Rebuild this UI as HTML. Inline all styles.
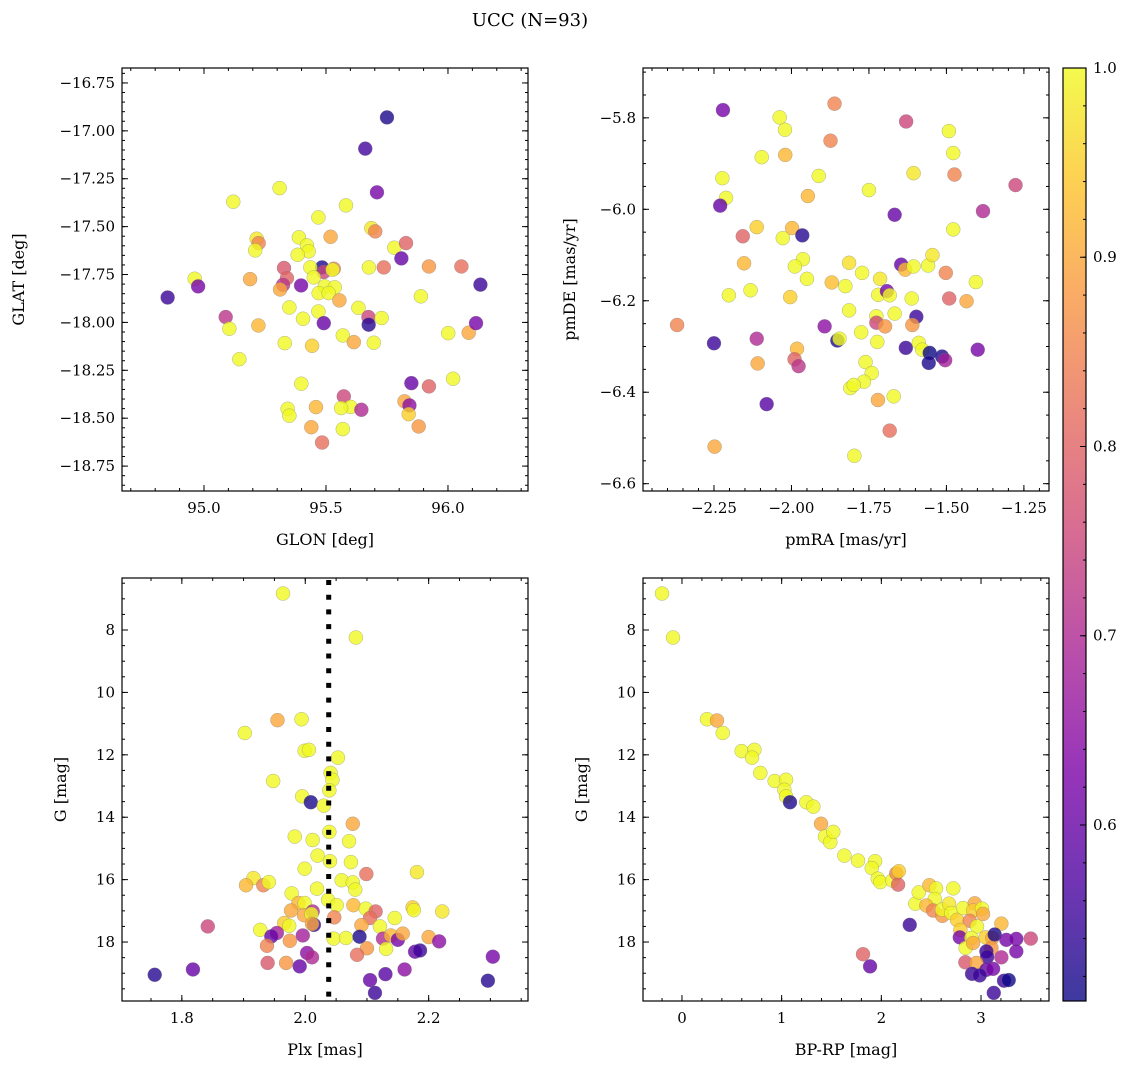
<!DOCTYPE html>
<html><head><meta charset="utf-8"><style>
body{margin:0;background:#fff;}
svg{display:block;font-family:"DejaVu Serif","Liberation Serif",serif;}
</style></head><body>
<svg id="fig" width="1136" height="1068" xmlns="http://www.w3.org/2000/svg">
<text x="530" y="26" font-size="18" text-anchor="middle">UCC (N=93)</text>
</svg>
<script>
// Panel 1: GLON / GLAT / prob
const p1x=[95.750,95.661,95.709,95.310,95.120,95.582,95.469,95.686,95.702,95.519,95.216,95.224,95.210,95.389,95.422,95.429,95.384,95.780,95.828,95.809,95.676,95.737,95.922,96.055,96.133,95.889,95.484,95.491,95.532,95.436,95.527,95.450,95.495,95.536,95.470,95.511,95.555,95.328,95.340,95.324,95.312,95.398,95.189,94.962,94.976,94.851,95.089,95.104,95.223,95.145,95.350,95.406,95.469,95.491,95.633,95.674,95.675,95.728,95.331,95.443,95.569,95.614,95.696,96.001,96.085,96.115,95.850,95.922,96.021,95.399,95.573,95.601,95.562,95.645,95.459,95.343,95.350,95.822,95.842,95.839,95.440,95.569,95.880,95.484];
const p1y=[-16.93,-17.093,-17.321,-17.299,-17.370,-17.389,-17.452,-17.508,-17.525,-17.553,-17.563,-17.586,-17.624,-17.556,-17.598,-17.629,-17.647,-17.610,-17.586,-17.666,-17.713,-17.713,-17.708,-17.708,-17.803,-17.864,-17.713,-17.737,-17.720,-17.713,-17.725,-17.765,-17.812,-17.817,-17.847,-17.847,-17.885,-17.716,-17.769,-17.804,-17.828,-17.807,-17.774,-17.772,-17.812,-17.870,-17.972,-18.033,-18.016,-18.192,-17.922,-17.981,-17.943,-18.004,-17.924,-17.972,-18.012,-17.977,-18.108,-18.122,-18.068,-18.103,-18.106,-18.056,-18.054,-18.004,-18.317,-18.334,-18.294,-18.320,-18.386,-18.441,-18.447,-18.456,-18.442,-18.451,-18.487,-18.412,-18.433,-18.479,-18.547,-18.557,-18.543,-18.627];
const p1c=[0.52,0.56,0.62,1,1,1,1,0.98,0.85,0.9,0.98,0.85,1,1,1,1,1,1,0.8,0.6,1,0.82,0.88,0.82,0.55,1,0.52,0.75,0.85,1,1,1,1,1,1,1,0.9,0.78,0.8,0.72,0.9,0.62,0.9,1,0.62,0.55,0.72,1,0.92,1,1,1,1,0.6,1,0.75,0.53,1,1,0.95,1,0.9,1,1,0.9,0.62,0.6,0.8,1,1,0.75,1,1,0.7,0.92,1,1,0.9,0.65,0.95,0.9,1,0.88,0.82];
// Panel 2: pmRA / pmDE / prob
const p2x=[-2.221,-2.038,-2.021,-1.861,-1.630,-1.492,-1.478,-1.474,-1.277,-1.382,-1.874,-2.020,-2.096,-1.912,-1.606,-1.750,-1.947,-2.223,-2.211,-2.230,-1.667,-1.478,-2.112,-2.157,-1.998,-2.028,-1.965,-1.963,-1.989,-1.950,-2.153,-2.132,-2.202,-2.004,-1.870,-1.826,-1.814,-1.772,-1.714,-1.720,-1.692,-1.683,-1.646,-1.633,-1.606,-1.559,-1.545,-1.502,-1.405,-1.612,-1.491,-1.435,-1.814,-1.726,-1.667,-1.597,-1.726,-1.698,-1.610,-1.893,-2.369,-2.250,-2.112,-1.852,-1.845,-1.775,-1.723,-1.631,-1.589,-1.578,-1.554,-1.514,-1.504,-1.557,-1.399,-1.982,-1.990,-1.977,-2.109,-1.761,-1.741,-1.766,-1.810,-1.799,-1.670,-1.721,-2.080,-1.683,-2.248,-1.797];
const p2y=[-5.783,-5.799,-5.826,-5.769,-5.808,-5.829,-5.877,-5.924,-5.947,-6.004,-5.850,-5.881,-5.886,-5.927,-5.921,-5.958,-5.971,-5.932,-5.975,-5.992,-6.012,-6.044,-6.039,-6.059,-6.041,-6.063,-6.057,-6.109,-6.125,-6.152,-6.118,-6.177,-6.188,-6.192,-6.160,-6.168,-6.117,-6.139,-6.152,-6.187,-6.179,-6.188,-6.121,-6.132,-6.125,-6.123,-6.100,-6.139,-6.159,-6.195,-6.195,-6.201,-6.221,-6.234,-6.228,-6.235,-6.248,-6.256,-6.253,-6.256,-6.253,-6.293,-6.283,-6.287,-6.283,-6.269,-6.290,-6.303,-6.292,-6.307,-6.314,-6.322,-6.330,-6.336,-6.307,-6.305,-6.328,-6.343,-6.337,-6.334,-6.358,-6.377,-6.391,-6.384,-6.409,-6.417,-6.426,-6.484,-6.519,-6.539];
const p2c=[0.62,1,1,0.85,0.75,1,1,0.85,0.75,0.7,0.85,0.92,1,1,0.98,1,0.92,1,1,0.6,0.6,1,0.95,0.8,0.92,1,0.53,1,1,1,0.92,1,1,0.95,0.93,1,0.97,1,0.98,1,0.62,1,0.6,0.92,1,1,0.98,0.85,1,1,0.8,0.9,1,1,1,0.55,0.75,0.88,0.88,0.65,0.85,0.55,0.7,0.52,1,1,1,0.55,1,1,0.5,0.52,0.68,0.52,0.62,0.92,0.8,0.72,0.9,1,1,1,1,1,1,0.9,0.58,0.82,0.9,1];
// Panel 3: Plx / G / prob
const p3x=[1.964,2.082,1.955,1.994,1.902,1.999,2.006,2.053,2.041,2.044,2.039,1.948,1.995,2.009,2.030,2.077,2.039,1.983,2.012,2.071,2.020,2.040,2.074,1.999,2.099,2.181,1.916,1.904,1.932,1.941,2.059,2.077,2.081,1.978,2.019,2.037,2.051,1.989,1.999,1.977,1.998,2.012,2.010,2.078,2.098,2.114,2.105,2.047,2.145,2.174,2.176,2.222,1.966,1.974,2.014,2.011,2.091,2.121,1.842,1.927,1.954,1.945,1.996,1.938,1.975,2.046,2.066,2.088,2.126,2.139,2.150,2.158,2.131,2.100,2.084,2.200,2.217,2.178,2.186,2.003,2.011,1.939,1.969,1.991,2.304,1.756,1.818,2.105,2.130,2.161,2.113,2.296];
const p3y=[6.83,8.24,10.89,10.86,11.30,11.87,11.84,12.09,12.58,12.80,13.14,12.84,13.33,13.52,13.63,14.21,14.47,14.62,14.73,14.77,15.23,15.41,15.44,15.65,15.82,15.76,15.95,16.18,16.18,16.08,16.02,16.09,16.32,16.44,16.29,16.65,16.82,16.75,16.75,16.99,17.14,17.02,17.10,16.82,16.93,17.02,17.23,17.21,17.23,16.89,16.98,17.02,17.39,17.48,17.45,17.42,17.46,17.50,17.50,17.61,17.71,17.82,17.79,18.12,17.96,17.89,17.87,17.83,17.89,17.79,17.93,17.73,18.22,18.20,18.41,17.84,17.98,18.31,18.27,18.35,18.49,18.67,18.67,18.78,18.47,19.05,18.88,19.22,19.03,18.88,19.63,19.24];
const p3c=[1,1,0.9,1,1,1,1,1,1,1,1,1,1,0.52,1,0.9,1,1,1,1,1,1,1,1,0.82,0.98,0.98,0.92,0.85,1,1,1,1,1,1,1,1,0.92,1,0.9,0.9,0.7,1,0.92,1,0.8,0.82,0.85,1,0.95,1,0.98,0.95,1,0.55,0.9,0.9,1,0.75,1,0.68,0.6,0.68,0.85,0.88,1,1,0.52,0.7,0.92,0.62,0.9,1,0.88,0.82,0.9,0.65,0.6,0.55,0.65,0.7,0.78,0.88,0.6,0.62,0.53,0.6,0.6,0.58,0.65,0.55,0.53];
const plxMean=2.038;
// Panel 4: BP-RP / G / prob
const p4x=[-0.200,-0.090,0.251,0.351,0.409,0.599,0.726,0.703,0.786,0.930,1.044,1.027,1.044,1.084,1.248,1.318,1.395,1.435,1.488,1.518,1.629,1.766,1.937,1.904,1.964,1.990,2.110,2.150,2.168,2.175,2.285,1.816,1.887,2.341,2.375,2.482,2.549,2.536,2.452,2.519,2.612,2.609,2.679,2.722,2.703,2.759,2.820,2.937,2.920,3.010,3.020,2.887,3.204,2.793,2.787,2.960,2.903,2.846,2.920,3.047,3.114,3.137,3.104,3.054,3.061,3.204,3.254,3.354,3.354,3.499,2.843,2.953,3.054,3.121,2.910,2.987,3.231,3.278,3.128];
const p4y=[6.83,8.24,10.86,10.90,11.30,11.88,11.84,12.09,12.58,12.84,12.80,13.12,13.33,13.52,13.52,13.66,14.21,14.62,14.80,14.47,15.23,15.39,15.41,15.63,15.97,16.08,16.03,15.80,16.16,15.73,17.45,18.39,18.78,16.77,16.41,16.18,16.28,16.62,16.83,16.99,17.16,16.96,16.77,16.28,17.07,17.29,16.91,16.76,16.99,16.93,17.10,17.32,17.41,17.61,17.85,17.50,17.87,18.19,18.03,17.85,17.87,17.76,18.19,18.30,18.48,18.49,17.93,17.90,18.30,17.89,18.65,18.67,18.89,18.86,19.02,19.07,19.24,19.22,19.63];
const p4c=[1,1,1,0.9,1,1,1,1,1,1,1,1,1,0.52,1,1,0.9,1,1,1,1,1,1,1,1,1,1,0.85,0.8,0.95,0.55,0.8,0.6,1,1,0.92,1,1,0.92,0.85,0.88,1,0.98,1,1,0.95,1,0.9,0.95,1,0.9,0.85,0.92,0.95,0.62,1,1,1,0.9,0.95,0.9,0.52,0.88,0.55,0.55,0.7,0.62,0.62,0.62,0.75,0.78,0.9,0.6,0.62,0.55,0.55,0.55,0.5,0.55];
const cbTicks=[0.6,0.7,0.8,0.9,1.0];
const VMIN=0.507,VMAX=1.0;

const NS="http://www.w3.org/2000/svg";
const svg=document.getElementById('fig');
function el(tag,attrs,parent){const e=document.createElementNS(NS,tag);for(const k in attrs)e.setAttribute(k,attrs[k]);(parent||svg).appendChild(e);return e;}
const stops=[[13,8,135],[76,2,161],[126,3,168],[169,35,149],[204,71,120],[229,107,93],[248,148,65],[253,195,40],[240,249,33]];
function cmap(v){let t=(v-VMIN)/(VMAX-VMIN);t=Math.max(0,Math.min(1,t));const f=t*8,i=Math.min(7,Math.floor(f)),r=f-i;const a=stops[i],b=stops[i+1];return `rgb(${Math.round(a[0]+(b[0]-a[0])*r)},${Math.round(a[1]+(b[1]-a[1])*r)},${Math.round(a[2]+(b[2]-a[2])*r)})`;}

function panel(cfg){
  const {L,T,W,H,x0,x1,y0,y1,name}=cfg;
  const g=el('g',{});
  
  
  const sx=v=>L+(v-x0)/(x1-x0)*W, sy=v=>T+(v-y0)/(y1-y0)*H;
  const pg=el('g',{},g);
  
  
  if(cfg.extra)cfg.extra(g,sx,sy);
  for(let i=0;i<cfg.xs.length;i++){
    const c=el('circle',{cx:sx(cfg.xs[i]),cy:sy(cfg.ys[i]),r:7,fill:cmap(cfg.cs[i]),'fill-opacity':0.8,stroke:'#777','stroke-width':0.4,'stroke-opacity':0.7},pg);
    
    
  }
  if(cfg.line)cfg.line(g,sx,sy);
  el('rect',{x:L,y:T,width:W,height:H,fill:'none',stroke:'#000','stroke-width':1.2},g);
  // ticks
  const eps=1e-9;
  function ticks(step,from,to,len,axis,labels,fmt){
    const lo=Math.min(from,to),hi=Math.max(from,to);
    for(let v=Math.ceil(lo/step-eps)*step; v<=hi+eps; v+=step){
      if(axis==='x'){const x=sx(v);el('line',{x1:x,x2:x,y1:T+H,y2:T+H-len,stroke:'#000','stroke-width':1},g);el('line',{x1:x,x2:x,y1:T,y2:T+len,stroke:'#000','stroke-width':1},g);
        if(labels){const t=el('text',{x:x,y:T+H+22,'font-size':15,'text-anchor':'middle'},g);t.textContent=fmt(v);}}
      else{const y=sy(v);el('line',{x1:L,x2:L+len,y1:y,y2:y,stroke:'#000','stroke-width':1},g);el('line',{x1:L+W,x2:L+W-len,y1:y,y2:y,stroke:'#000','stroke-width':1},g);
        if(labels){const t=el('text',{x:L-7,y:y+5,'font-size':15,'text-anchor':'end'},g);t.textContent=fmt(v);}}
    }
  }
  ticks(cfg.xmin,x0,x1,3,'x',false);ticks(cfg.xmaj,x0,x1,6,'x',true,cfg.xf);
  ticks(cfg.ymin,y0,y1,3,'y',false);ticks(cfg.ymaj,y0,y1,6,'y',true,cfg.yf);
  const xl=el('text',{x:L+W/2,y:T+H+54,'font-size':16,'text-anchor':'middle'},g);xl.textContent=cfg.xl;
  
  const yx=L-cfg.ylOff;const yl=el('text',{x:yx,y:T+H/2,'font-size':16,'text-anchor':'middle',transform:`rotate(-90 ${yx} ${T+H/2})`},g);yl.textContent=cfg.yl;
  
}
const neg=v=>(v<0?'\u2212':'')+Math.abs(v);
panel({name:'glon-glat-panel',L:122,T:68,W:406,H:423,x0:94.664,x1:96.328,y0:-16.672,y1:-18.88,xs:p1x,ys:p1y,cs:p1c,xmaj:0.5,xmin:0.1,ymaj:0.25,ymin:0.05,xf:v=>v.toFixed(1),yf:v=>neg(+v.toFixed(2)).replace(/(\.\d)$/,'$10').replace(/^(\u2212?\d+)$/,'$1.00'),xl:'GLON [deg]',yl:'GLAT [deg]',ylOff:98});
panel({name:'pm-panel',L:643,T:68,W:406,H:423,x0:-2.479,x1:-1.169,y0:-5.691,y1:-6.616,xs:p2x,ys:p2y,cs:p2c,xmaj:0.25,xmin:0.05,ymaj:0.2,ymin:0.05,xf:v=>{const s=Math.abs(v).toFixed(2);return (v<0?'\u2212':'')+s;},yf:v=>{const s=Math.abs(v).toFixed(1);return (v<0?'\u2212':'')+s;},xl:'pmRA [mas/yr]',yl:'pmDE [mas/yr]',ylOff:68});
panel({name:'plx-g-panel',L:122,T:578,W:406,H:423,x0:1.703,x1:2.361,y0:6.333,y1:19.89,xs:p3x,ys:p3y,cs:p3c,xmaj:0.2,xmin:0.05,ymaj:2,ymin:0.5,xf:v=>v.toFixed(1),yf:v=>String(Math.round(v)),xl:'Plx [mas]',yl:'G [mag]',ylOff:56,
  line:(g,sx,sy)=>{const x=sx(plxMean);const l=el('line',{x1:x,x2:x,y1:580,y2:1001,stroke:'#000','stroke-width':5,'stroke-dasharray':'5,9.7'},g);}});
panel({name:'cmd-panel',L:643,T:578,W:406,H:423,x0:-0.391,x1:3.682,y0:6.333,y1:19.89,xs:p4x,ys:p4y,cs:p4c,xmaj:1,xmin:0.2,ymaj:2,ymin:0.5,xf:v=>String(Math.round(v)),yf:v=>String(Math.round(v)),xl:'BP-RP [mag]',yl:'G [mag]',ylOff:56});

// colorbar
const cb=el('g',{});


const defs=el('defs',{},cb);
const grad=el('linearGradient',{id:'pl',x1:0,y1:1,x2:0,y2:0},defs);
for(let i=0;i<=8;i++){el('stop',{offset:i/8,'stop-color':`rgb(${stops[i].join(',')})`,'stop-opacity':0.8},grad);}
const cbL=1063,cbT=68,cbW=23,cbH=933;
el('rect',{x:cbL,y:cbT,width:cbW,height:cbH,fill:'url(#pl)'},cb);
el('rect',{x:cbL,y:cbT,width:cbW,height:cbH,fill:'none',stroke:'#000','stroke-width':1.2},cb);
const cy=v=>cbT+cbH-(v-VMIN)/(VMAX-VMIN)*cbH;
for(let v=0.52;v<=1.0001;v+=0.02){el('line',{x1:cbL+cbW,x2:cbL+cbW-3,y1:cy(v),y2:cy(v),stroke:'#000'},cb);}
cbTicks.forEach(v=>{const y=cy(v);el('line',{x1:cbL+cbW,x2:cbL+cbW-6,y1:y,y2:y,stroke:'#000'},cb);
  const t=el('text',{x:cbL+cbW+7,y:y+5,'font-size':15},cb);t.textContent=v.toFixed(1);
  });
</script>
</body></html>
